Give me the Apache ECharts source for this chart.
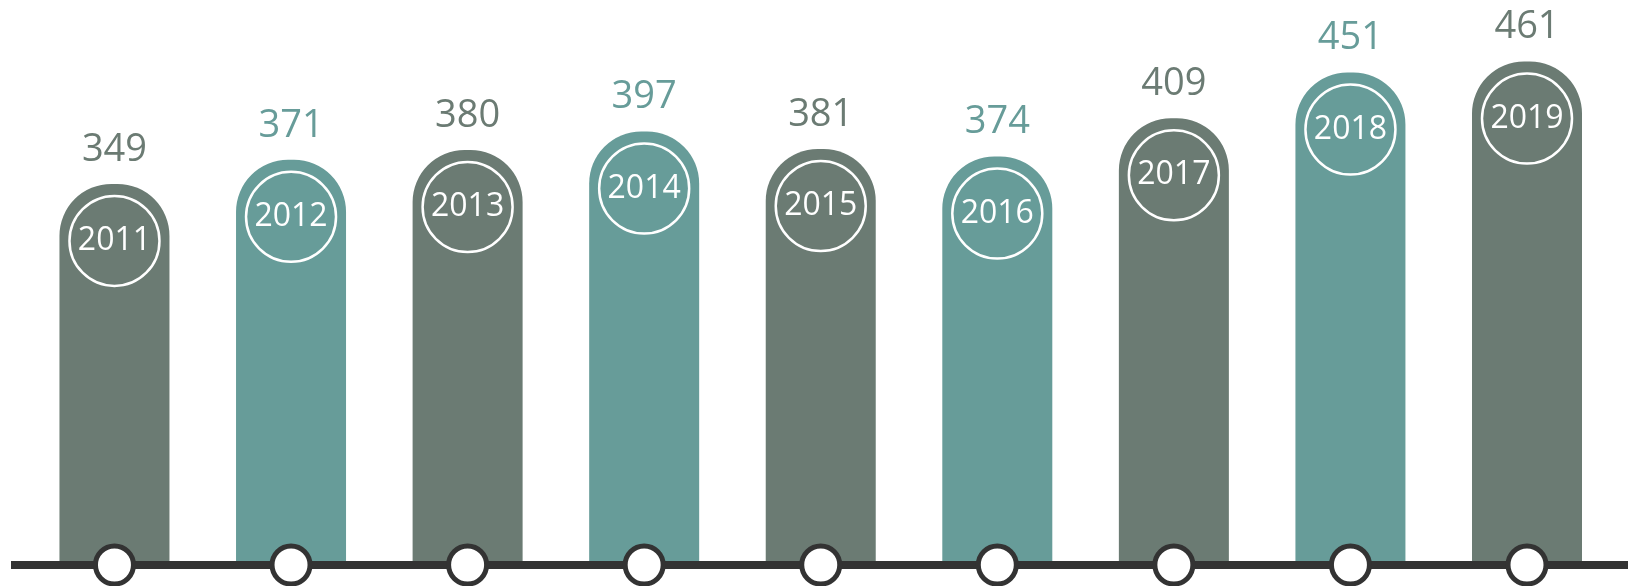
<!DOCTYPE html>
<html>
<head>
<meta charset="utf-8">
<script src="https://cdn.jsdelivr.net/npm/echarts@6/dist/echarts.min.js"></script>
<style>
  html, body { margin: 0; padding: 0; background: #fff; }
  #chart { width: 1628px; height: 586px; }
</style>
</head>
<body>
<div id="chart"></div>
<script>
const years = ["2011", "2012", "2013", "2014", "2015", "2016", "2017", "2018", "2019"]
const values = [349, 371, 380, 397, 381, 374, 409, 451, 461]

const GRAY = "#6b7b73"
const TEAL = "#679c99"
let colorOf = i => i % 2 ? TEAL : GRAY

let chart = echarts.init(document.getElementById("chart"))

let barData = values.map((v, i) => ({
  value: [i, v],
  itemStyle: { color: colorOf(i) },
  label: { color: colorOf(i) }
}))

let option = {
  animation: false,
  grid: { left: 11, right: 0, top: 19, bottom: 21 },
  xAxis: {
    type: "value",
    min: -0.586,
    max: 8.572,
    z: 5,
    axisLine: { show: true, onZero: false, lineStyle: { color: "#333", width: 8, cap: "butt" } },
    axisTick: { show: false },
    axisLabel: { show: false },
    splitLine: { show: false }
  },
  yAxis: {
    type: "value",
    min: 0,
    max: 500,
    show: false
  },
  series: [
    {
      type: "bar",
      barWidth: 110,
      data: barData,
      itemStyle: { borderRadius: [52, 52, 0, 0] },
      label: {
        show: true,
        position: "top",
        distance: 15,
        fontFamily: "Open Sans",
        fontSize: 38,
        formatter: p => p.value[1]
      }
    },
    {
      // year badge inside the bar cap
      type: "scatter",
      z: 4,
      silent: true,
      symbol: "circle",
      symbolSize: 90,
      symbolOffset: [0, 57],
      itemStyle: { color: "rgba(0,0,0,0)", borderColor: "#fff", borderWidth: 2.5, opacity: 1 },
      label: {
        show: true,
        position: "inside",
        color: "#fff",
        fontFamily: "Open Sans",
        fontSize: 32,
        formatter: p => years[p.dataIndex]
      },
      data: values.map((v, i) => [i, v])
    },
    {
      // ring markers sitting on the baseline
      type: "scatter",
      z: 10,
      clip: false,
      silent: true,
      symbol: "circle",
      symbolSize: 38,
      itemStyle: { color: "#fff", borderColor: "#333", borderWidth: 5, opacity: 1 },
      data: years.map((y, i) => [i, 0])
    }
  ]
}

chart.setOption(option)
</script>
</body>
</html>
